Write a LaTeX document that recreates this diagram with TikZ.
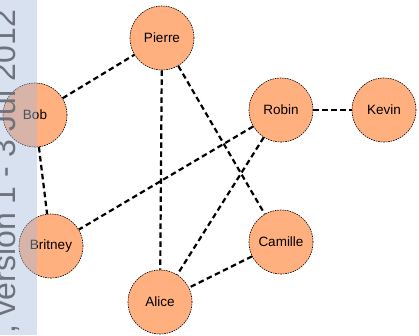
\documentclass[tikz,border=0pt]{standalone}
\usepackage{fontspec}
\setmainfont{Liberation Sans}
\definecolor{nodeorange}{RGB}{255,176,126}
\definecolor{stripblue}{RGB}{164,187,220}
\definecolor{wmgray}{RGB}{110,114,124}
\begin{document}
\begin{tikzpicture}[x=1pt,y=1pt,
  person/.style={circle, fill=nodeorange, draw=black, line width=0.6pt,
    dash pattern=on 1.5pt off 1pt, minimum size=64pt, inner sep=0pt,
    font=\fontsize{13.5}{16}\selectfont},
  link/.style={draw=black, line width=2.2pt, dash pattern=on 5.5pt off 3.5pt},
  strip/.style={fill=stripblue, fill opacity=0.44, draw=none},
  watermark/.style={rotate=90, anchor=base west, inner sep=0pt, text=wmgray,
    font=\fontsize{32}{32}\selectfont}]
\useasboundingbox (0,0) rectangle (419,335);
\node[person] (pierre) at (162,297) {Pierre};
\node[person] (bob) at (35,220) {Bob};
\node[person] (robin) at (281,225) {Robin};
\node[person] (kevin) at (384,225) {Kevin};
\node[person] (britney) at (51,89) {Britney};
\node[person] (camille) at (281,93) {Camille};
\node[person] (alice) at (160,33) {Alice};
\draw[link] (bob) -- (pierre);
\draw[link] (bob) -- (britney);
\draw[link] (pierre) -- (alice);
\draw[link] (pierre) -- (camille);
\draw[link] (robin) -- (britney);
\draw[link] (robin) -- (alice);
\draw[link] (robin) -- (kevin);
\draw[link] (camille) -- (alice);
\fill[strip] (0,0) rectangle (37,335);
\begin{scope}
\clip (0,0) rectangle (37,335);
\node[watermark] (wm) at (16,1) {, version 1 - 3 Jul 2012};
\end{scope}
\end{tikzpicture}
\end{document}
